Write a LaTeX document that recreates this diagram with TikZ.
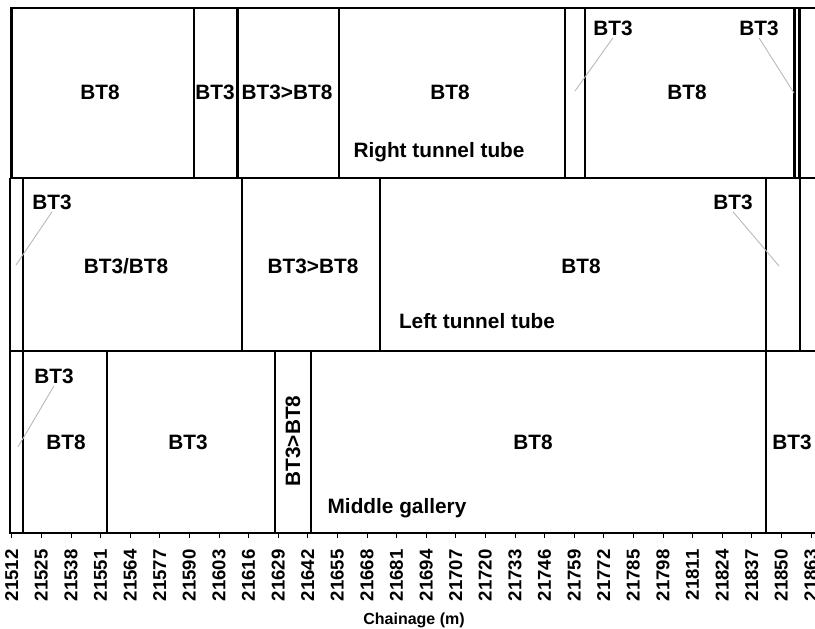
\documentclass[tikz,border=0pt]{standalone}
\usepackage{fontspec}
\setmainfont{Liberation Sans}
\begin{document}
\begin{tikzpicture}[x=0.5pt,y=-0.5pt,font=\bfseries\fontsize{10.4}{12}\selectfont,
  zone/.style={line width=1.25pt},
  lead/.style={gray!55,line width=0.45pt},
  lbl/.style={inner sep=1pt}]
  \useasboundingbox (0,0) rectangle (815,628);
  \draw[zone] (815,8) -- (11.7,8) -- (11.7,178) -- (815,178);
  \foreach \x in {194,237.7,339,565,585,794.5,799.5}{ \draw[zone] (\x,8) -- (\x,178); }
  \draw[zone] (10,178) -- (10,351) -- (815,351);
  \foreach \x in {23,242,380,766,800}{ \draw[zone] (\x,178) -- (\x,351); }
  \draw[zone] (10,351) -- (10,533) -- (815,533);
  \foreach \x in {23,107,275,311,766}{ \draw[zone] (\x,351) -- (\x,533); }
  \node[lbl] (rA) at (100,92) {BT8};
  \node[lbl] (rB) at (215,92) {BT3};
  \node[lbl] (rC) at (287,92) {BT3>BT8};
  \node[lbl] (rD) at (450,92) {BT8};
  \node[lbl] (rT) at (439,152) {Right tunnel tube};
  \node[lbl] (rE) at (613,28) {BT3};
  \node[lbl] (rF) at (687,92) {BT8};
  \node[lbl] (rG) at (759,28) {BT3};
  \coordinate (rEp) at (575,91);
  \coordinate (rGp) at (794,93);
  \draw[lead] (rE.south) -- (rEp);
  \draw[lead] (rG.south) -- (rGp);
  \node[lbl] (mA) at (52,202) {BT3};
  \node[lbl] (mB) at (126,266) {BT3/BT8};
  \node[lbl] (mC) at (313,266) {BT3>BT8};
  \node[lbl] (mD) at (581,266) {BT8};
  \node[lbl] (mT) at (477,321) {Left tunnel tube};
  \node[lbl] (mE) at (733,202) {BT3};
  \coordinate (mAp) at (16,265);
  \coordinate (mEp) at (779,266);
  \draw[lead] (mA.south) -- (mAp);
  \draw[lead] (mE.south) -- (mEp);
  \node[lbl] (bA) at (54,376) {BT3};
  \node[lbl] (bB) at (66,442) {BT8};
  \node[lbl] (bC) at (188,442) {BT3};
  \node[lbl,rotate=90] (bD) at (293,441) {BT3>BT8};
  \node[lbl] (bE) at (533,442) {BT8};
  \node[lbl] (bT) at (397,508) {Middle gallery};
  \node[lbl] (bF) at (792,442) {BT3};
  \coordinate (bAp) at (18,447);
  \draw[lead] (bA.south) -- (bAp);
  \foreach \i in {0,...,27}{ \draw (11.7+\i*29.6,533) -- (11.7+\i*29.6,538); \pgfmathtruncatemacro\ch{512+13*\i} \node[rotate=90,anchor=east,inner sep=0pt,font=\bfseries\fontsize{9.3}{11}\selectfont] (t\i) at (11.7+\i*29.6,549) {21\ch}; }
  \node[anchor=base,font=\bfseries\fontsize{8}{10}\selectfont] (axis) at (414,624) {Chainage (m)};
\end{tikzpicture}
\end{document}
